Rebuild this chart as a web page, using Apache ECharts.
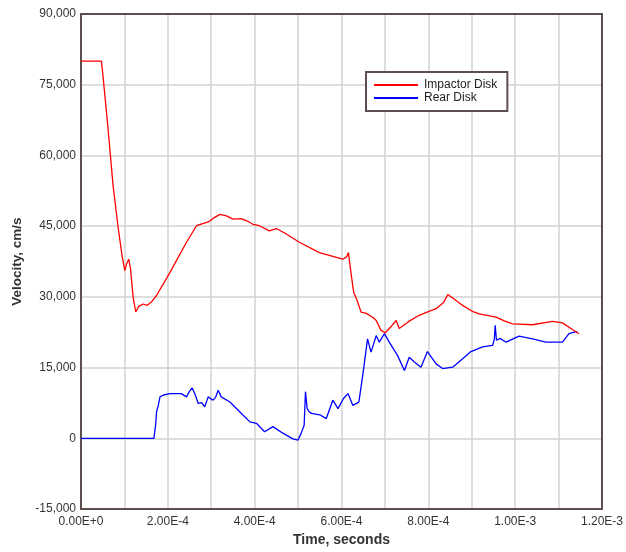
<!DOCTYPE html>
<html>
<head>
<meta charset="utf-8">
<script src="https://cdn.jsdelivr.net/npm/echarts@6/dist/echarts.min.js"></script>
<style>
html,body{margin:0;padding:0;background:#fff;}
#chart{width:626px;height:552px;}
</style>
</head>
<body>
<div id="chart"></div>
<script>
// Time values in units of 1E-4 seconds
var impactorT = [0,0.47,0.5,0.61,0.74,0.86,0.95,1.01,1.05,1.10,1.14,1.20,1.26,1.33,1.43,1.52,1.62,1.74,2.05,2.43,2.66,2.93,3.05,3.20,3.35,3.50,3.69,3.85,3.96,4.11,4.34,4.50,4.70,5.03,5.49,6.03,6.12,6.16,6.22,6.28,6.35,6.45,6.57,6.72,6.80,6.91,7.01,7.12,7.26,7.33,7.55,7.79,8.0,8.18,8.35,8.45,8.60,8.79,9.0,9.17,9.56,9.75,9.94,10.4,10.86,11.09,11.32,11.47];
var impactorV = [80000,80000,77500,67000,53500,44400,38500,35600,37000,38000,36000,30000,26800,28000,28500,28200,28900,30300,35200,41600,45100,45900,46700,47500,47200,46500,46600,46000,45400,45100,44000,44500,43500,41600,39400,38000,38500,39400,35000,31000,29500,26800,26500,25700,25000,22900,22400,23500,25000,23300,24800,26100,26900,27500,28800,30500,29500,28200,27000,26400,25700,24900,24300,24100,24800,24500,23100,22200];

var rearT = [0,1.68,1.72,1.74,1.78,1.82,1.90,2.05,2.31,2.43,2.50,2.56,2.62,2.70,2.78,2.85,2.93,3.04,3.10,3.16,3.23,3.43,3.66,3.89,4.04,4.23,4.42,4.65,4.88,5.00,5.07,5.14,5.17,5.21,5.26,5.31,5.5,5.65,5.80,5.92,6.05,6.15,6.26,6.40,6.49,6.60,6.68,6.80,6.87,6.99,7.10,7.29,7.45,7.56,7.68,7.83,7.98,8.18,8.33,8.56,8.79,8.98,9.25,9.48,9.52,9.54,9.57,9.65,9.79,10.09,10.4,10.71,11.09,11.24,11.43];
var rearV = [0,0,3000,5600,7000,8800,9200,9500,9500,8800,10000,10700,9500,7400,7600,6700,8800,8100,8700,10200,8800,7700,5600,3500,3200,1400,2500,1100,-100,-350,1060,2800,9900,6300,5600,5300,5000,4200,8100,6300,8500,9500,7000,7700,13400,21100,18300,21800,20400,22200,20400,17600,14400,17200,16200,15100,18400,15800,14800,15100,16900,18400,19400,19700,21000,24000,20800,21200,20400,21700,21100,20400,20400,22200,22700];

var xTickLabels = ['0.00E+0','2.00E-4','4.00E-4','6.00E-4','8.00E-4','1.00E-3','1.20E-3'];
var yTickLabels = ['-15,000','0','15,000','30,000','45,000','60,000','75,000','90,000'];
var seriesNames = ['Impactor Disk','Rear Disk'];

function pairs(t, v){
  var out = [];
  for (var i = 0; i < t.length; i++) out.push([t[i] * 1e-4, v[i]]);
  return out;
}

var chart = echarts.init(document.getElementById('chart'), null, {renderer:'canvas'});
var font = 'Liberation Sans, Arial, sans-serif';
var frame = '#5e4f4f';
var gridCol = '#d2d2d2';
chart.setOption({
  animation:false,
  backgroundColor:'#ffffff',
  grid:{left:81, top:14, right:23, bottom:41},
  legend:{
    data:seriesNames,
    orient:'vertical',
    left:366, top:72,
    padding:[7,10,7,7],
    itemGap:1,
    itemWidth:44, itemHeight:12,
    borderColor:frame, borderWidth:2, backgroundColor:'#ffffff',
    itemStyle:{opacity:0},
    textStyle:{fontFamily:font, fontSize:12, color:'#222', padding:[0,0,0,1]}
  },
  xAxis:[{
    type:'value', min:0, max:1.2e-3, interval:2e-4,
    name:'Time, seconds', nameLocation:'middle', nameGap:22,
    nameTextStyle:{fontFamily:font, fontSize:14, fontWeight:'bold', color:'#333'},
    axisLine:{show:true, onZero:false, lineStyle:{color:frame, width:2}},
    axisTick:{show:false},
    axisLabel:{fontFamily:font, fontSize:12, color:'#333', margin:7,
      formatter:function(v){ return xTickLabels[Math.round(v/2e-4)] || ''; }},
    splitLine:{show:true, lineStyle:{color:gridCol, width:1.5}},
    minorTick:{show:false, splitNumber:2},
    minorSplitLine:{show:true, lineStyle:{color:gridCol, width:1.5}},
    z:3
  },{
    type:'value', position:'top', min:0, max:1.2e-3, interval:2e-4,
    axisLine:{show:true, onZero:false, lineStyle:{color:frame, width:2}},
    axisTick:{show:false}, axisLabel:{show:false}, splitLine:{show:false}, z:3
  }],
  yAxis:[{
    type:'value', min:-15000, max:90000, interval:15000,
    name:'Velocity, cm/s', nameLocation:'middle', nameGap:57,
    nameTextStyle:{fontFamily:font, fontSize:13.5, fontWeight:'bold', color:'#333'},
    axisLine:{show:true, onZero:false, lineStyle:{color:frame, width:2}},
    axisTick:{show:false},
    axisLabel:{fontFamily:font, fontSize:12, color:'#333', margin:5,
      formatter:function(v){ return yTickLabels[Math.round((v+15000)/15000)] || ''; }},
    splitLine:{show:true, lineStyle:{color:gridCol, width:1.5}},
    z:3
  },{
    type:'value', position:'right', min:-15000, max:90000, interval:15000,
    axisLine:{show:true, onZero:false, lineStyle:{color:frame, width:2}},
    axisTick:{show:false}, axisLabel:{show:false}, splitLine:{show:false}, z:3
  }],
  series:[
    {name:seriesNames[0], type:'line', data:pairs(impactorT, impactorV), symbol:'none',
     lineStyle:{color:'#ff0000', width:1.3}, itemStyle:{color:'#ff0000'}, z:5},
    {name:seriesNames[1], type:'line', data:pairs(rearT, rearV), symbol:'none',
     lineStyle:{color:'#0000ff', width:1.3}, itemStyle:{color:'#0000ff'}, z:4}
  ]
});
</script>
</body>
</html>
